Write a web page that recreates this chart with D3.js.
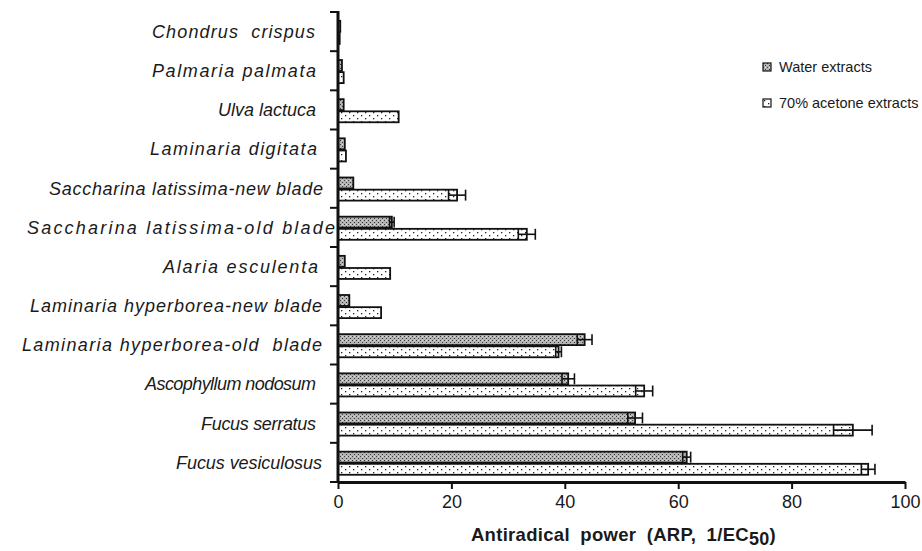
<!DOCTYPE html>
<html>
<head>
<meta charset="utf-8">
<script src="https://cdn.jsdelivr.net/npm/d3@7"></script>
<style>
  body { margin: 0; background: #fff; }
  text { font-family: "Liberation Sans", Arial, sans-serif; fill: #1a1a1a; }
</style>
</head>
<body>
<svg width="922" height="551"></svg>
<script>
// species, top to bottom
let species = [
  'Chondrus  crispus', 'Palmaria palmata', 'Ulva lactuca', 'Laminaria digitata',
  'Saccharina latissima-new blade', 'Saccharina latissima-old blade', 'Alaria esculenta',
  'Laminaria hyperborea-new blade', 'Laminaria hyperborea-old  blade', 'Ascophyllum nodosum',
  'Fucus serratus', 'Fucus vesiculosus'
]
let waterValues = [0.4, 0.7, 1.0, 1.2, 2.7, 9.5, 1.2, 2.0, 43.5, 40.6, 52.4, 61.5]
let waterErrors = [0, 0, 0, 0, 0, 0.4, 0, 0, 1.3, 1.1, 1.3, 0.7]
let acetoneValues = [0.3, 1.0, 10.7, 1.4, 21.0, 33.3, 9.2, 7.6, 38.9, 54.0, 90.8, 93.5]
let acetoneErrors = [0, 0, 0, 0, 1.5, 1.5, 0, 0, 0.5, 1.5, 3.4, 1.2]
let seriesNames = ['Water extracts', '70% acetone extracts']
let xTicks = [0, 20, 40, 60, 80, 100]

// label layout: the original typesetting spaces some names out, [left, right] in px
let labelSpan = [
  [152, 315], [152, 316], [218, 316], [150, 317], [49, 323], [27, 335],
  [163, 318], [30, 322], [22, 322], [145, 316], [201, 316], [176, 322]
]

let svg = d3.select('svg')
let plotLeft = 338, plotRight = 905, plotTop = 12, plotBottom = 482

let x = d3.scaleLinear().domain([0, 100]).range([plotLeft, plotRight])
let y = d3.scaleBand().domain(species).range([plotTop, plotBottom])
let sub = d3.scaleBand().domain(['water', 'acetone']).range([0, y.bandwidth()])
    .paddingInner(0.1).paddingOuter(0.66).align(0.55)

// fill patterns
let defs = svg.append('defs')
let pw = defs.append('pattern').attr('id', 'pWater').attr('patternUnits', 'userSpaceOnUse')
    .attr('width', 4).attr('height', 4)
pw.append('rect').attr('width', 4).attr('height', 4).attr('fill', '#b4b4b4')
pw.append('rect').attr('x', 0).attr('y', 0).attr('width', 1).attr('height', 1).attr('fill', '#3a3a3a')
pw.append('rect').attr('x', 2).attr('y', 2).attr('width', 1).attr('height', 1).attr('fill', '#3a3a3a')
pw.append('rect').attr('x', 2).attr('y', 0).attr('width', 1).attr('height', 1).attr('fill', '#e0e0e0')

let pa = defs.append('pattern').attr('id', 'pAcetone').attr('patternUnits', 'userSpaceOnUse')
    .attr('width', 8).attr('height', 6)
pa.append('rect').attr('width', 8).attr('height', 6).attr('fill', '#fff')
pa.append('rect').attr('x', 1).attr('y', 1).attr('width', 1.3).attr('height', 1.3).attr('fill', '#222')
pa.append('rect').attr('x', 5).attr('y', 4).attr('width', 1.3).attr('height', 1.3).attr('fill', '#222')

let rows = species.map(function (s, i) {
    return [
        {sp: s, key: 'water', v: waterValues[i], e: waterErrors[i]},
        {sp: s, key: 'acetone', v: acetoneValues[i], e: acetoneErrors[i]}
    ]
}).flat()

function fillFor(d) { return d.key === 'water' ? 'url(#pWater)' : 'url(#pAcetone)' }

svg.append('g')
    .selectAll('rect')
    .data(rows)
    .join('rect')
    .attr('x', x(0))
    .attr('y', function (d) { return y(d.sp) + sub(d.key) })
    .attr('width', function (d) { return x(d.v) - x(0) })
    .attr('height', sub.bandwidth())
    .attr('fill', fillFor)
    .attr('stroke', '#111')
    .attr('stroke-width', 1.8)

// error bars
let errs = svg.append('g').attr('stroke', '#111').attr('stroke-width', 1.6)
    .selectAll('g')
    .data(rows.filter(function (d) { return d.e > 0 }))
    .join('g')
errs.append('line')
    .attr('x1', function (d) { return x(d.v - d.e) })
    .attr('x2', function (d) { return x(d.v + d.e) })
    .attr('y1', function (d) { return y(d.sp) + sub(d.key) + sub.bandwidth() / 2 })
    .attr('y2', function (d) { return y(d.sp) + sub(d.key) + sub.bandwidth() / 2 })
errs.selectAll('.cap')
    .data(function (d) { return [{d: d, v: d.v - d.e}, {d: d, v: d.v + d.e}] })
    .join('line')
    .attr('class', 'cap')
    .attr('x1', function (c) { return x(c.v) })
    .attr('x2', function (c) { return x(c.v) })
    .attr('y1', function (c) { return y(c.d.sp) + sub(c.d.key) })
    .attr('y2', function (c) { return y(c.d.sp) + sub(c.d.key) + sub.bandwidth() })

// y axis: line with ticks on band boundaries
let yAxis = svg.append('g')
let bounds = species.map(function (s) { return y(s) }).concat([plotBottom])
yAxis.selectAll('line.tick')
    .data(bounds)
    .join('line')
    .attr('class', 'tick')
    .attr('x1', plotLeft - 8).attr('x2', plotLeft)
    .attr('y1', function (d) { return d }).attr('y2', function (d) { return d })
    .attr('stroke', '#111').attr('stroke-width', 2)
yAxis.append('line')
    .attr('x1', plotLeft).attr('x2', plotLeft).attr('y1', plotTop - 1).attr('y2', plotBottom + 1)
    .attr('stroke', '#111').attr('stroke-width', 3)
yAxis.selectAll('text')
    .data(species)
    .join('text')
    .attr('x', function (d, i) { return labelSpan[i][0] })
    .attr('y', function (d) { return y(d) + y.bandwidth() / 2 })
    .attr('dy', '0.35em')
    .attr('textLength', function (d, i) { return labelSpan[i][1] - labelSpan[i][0] })
    .attr('lengthAdjust', 'spacing')
    .attr('font-style', 'italic')
    .attr('font-size', 18)
    .attr('xml:space', 'preserve')
    .text(function (d) { return d })

// x axis
let xAxis = svg.append('g')
    .attr('transform', 'translate(0,' + plotBottom + ')')
    .call(d3.axisBottom(x).tickValues(xTicks).tickSize(7).tickSizeOuter(0).tickPadding(6))
xAxis.select('.domain').attr('stroke', '#111').attr('stroke-width', 3)
xAxis.selectAll('.tick line').attr('stroke', '#111').attr('stroke-width', 2)
xAxis.selectAll('.tick text')
    .attr('font-size', 18)
    .attr('font-family', '"Liberation Sans", Arial, sans-serif')
    .attr('fill', '#1a1a1a')

let title = svg.append('text')
    .attr('x', (plotLeft + plotRight) / 2 + 2)
    .attr('y', 541)
    .attr('text-anchor', 'middle')
    .attr('font-weight', 'bold')
    .attr('font-size', 18.5)
    .attr('word-spacing', 5)
    .attr('letter-spacing', 0.3)
title.append('tspan').text('Antiradical power (ARP, 1/EC')
title.append('tspan').attr('dy', 4).attr('font-size', 18).text('50')
title.append('tspan').attr('dy', -4).text(')')

// legend
let legend = svg.append('g')
    .selectAll('g')
    .data(seriesNames)
    .join('g')
    .attr('transform', function (d, i) { return 'translate(763,' + (63 + i * 36) + ')' })
legend.append('rect')
    .attr('width', 8).attr('height', 8)
    .attr('fill', function (d, i) { return i === 0 ? 'url(#pWater)' : 'url(#pAcetone)' })
    .attr('stroke', '#111').attr('stroke-width', 1.2)
legend.append('text')
    .attr('x', 16).attr('y', 4).attr('dy', '0.35em')
    .attr('font-size', 14.5)
    .text(function (d) { return d })
</script>
</body>
</html>
